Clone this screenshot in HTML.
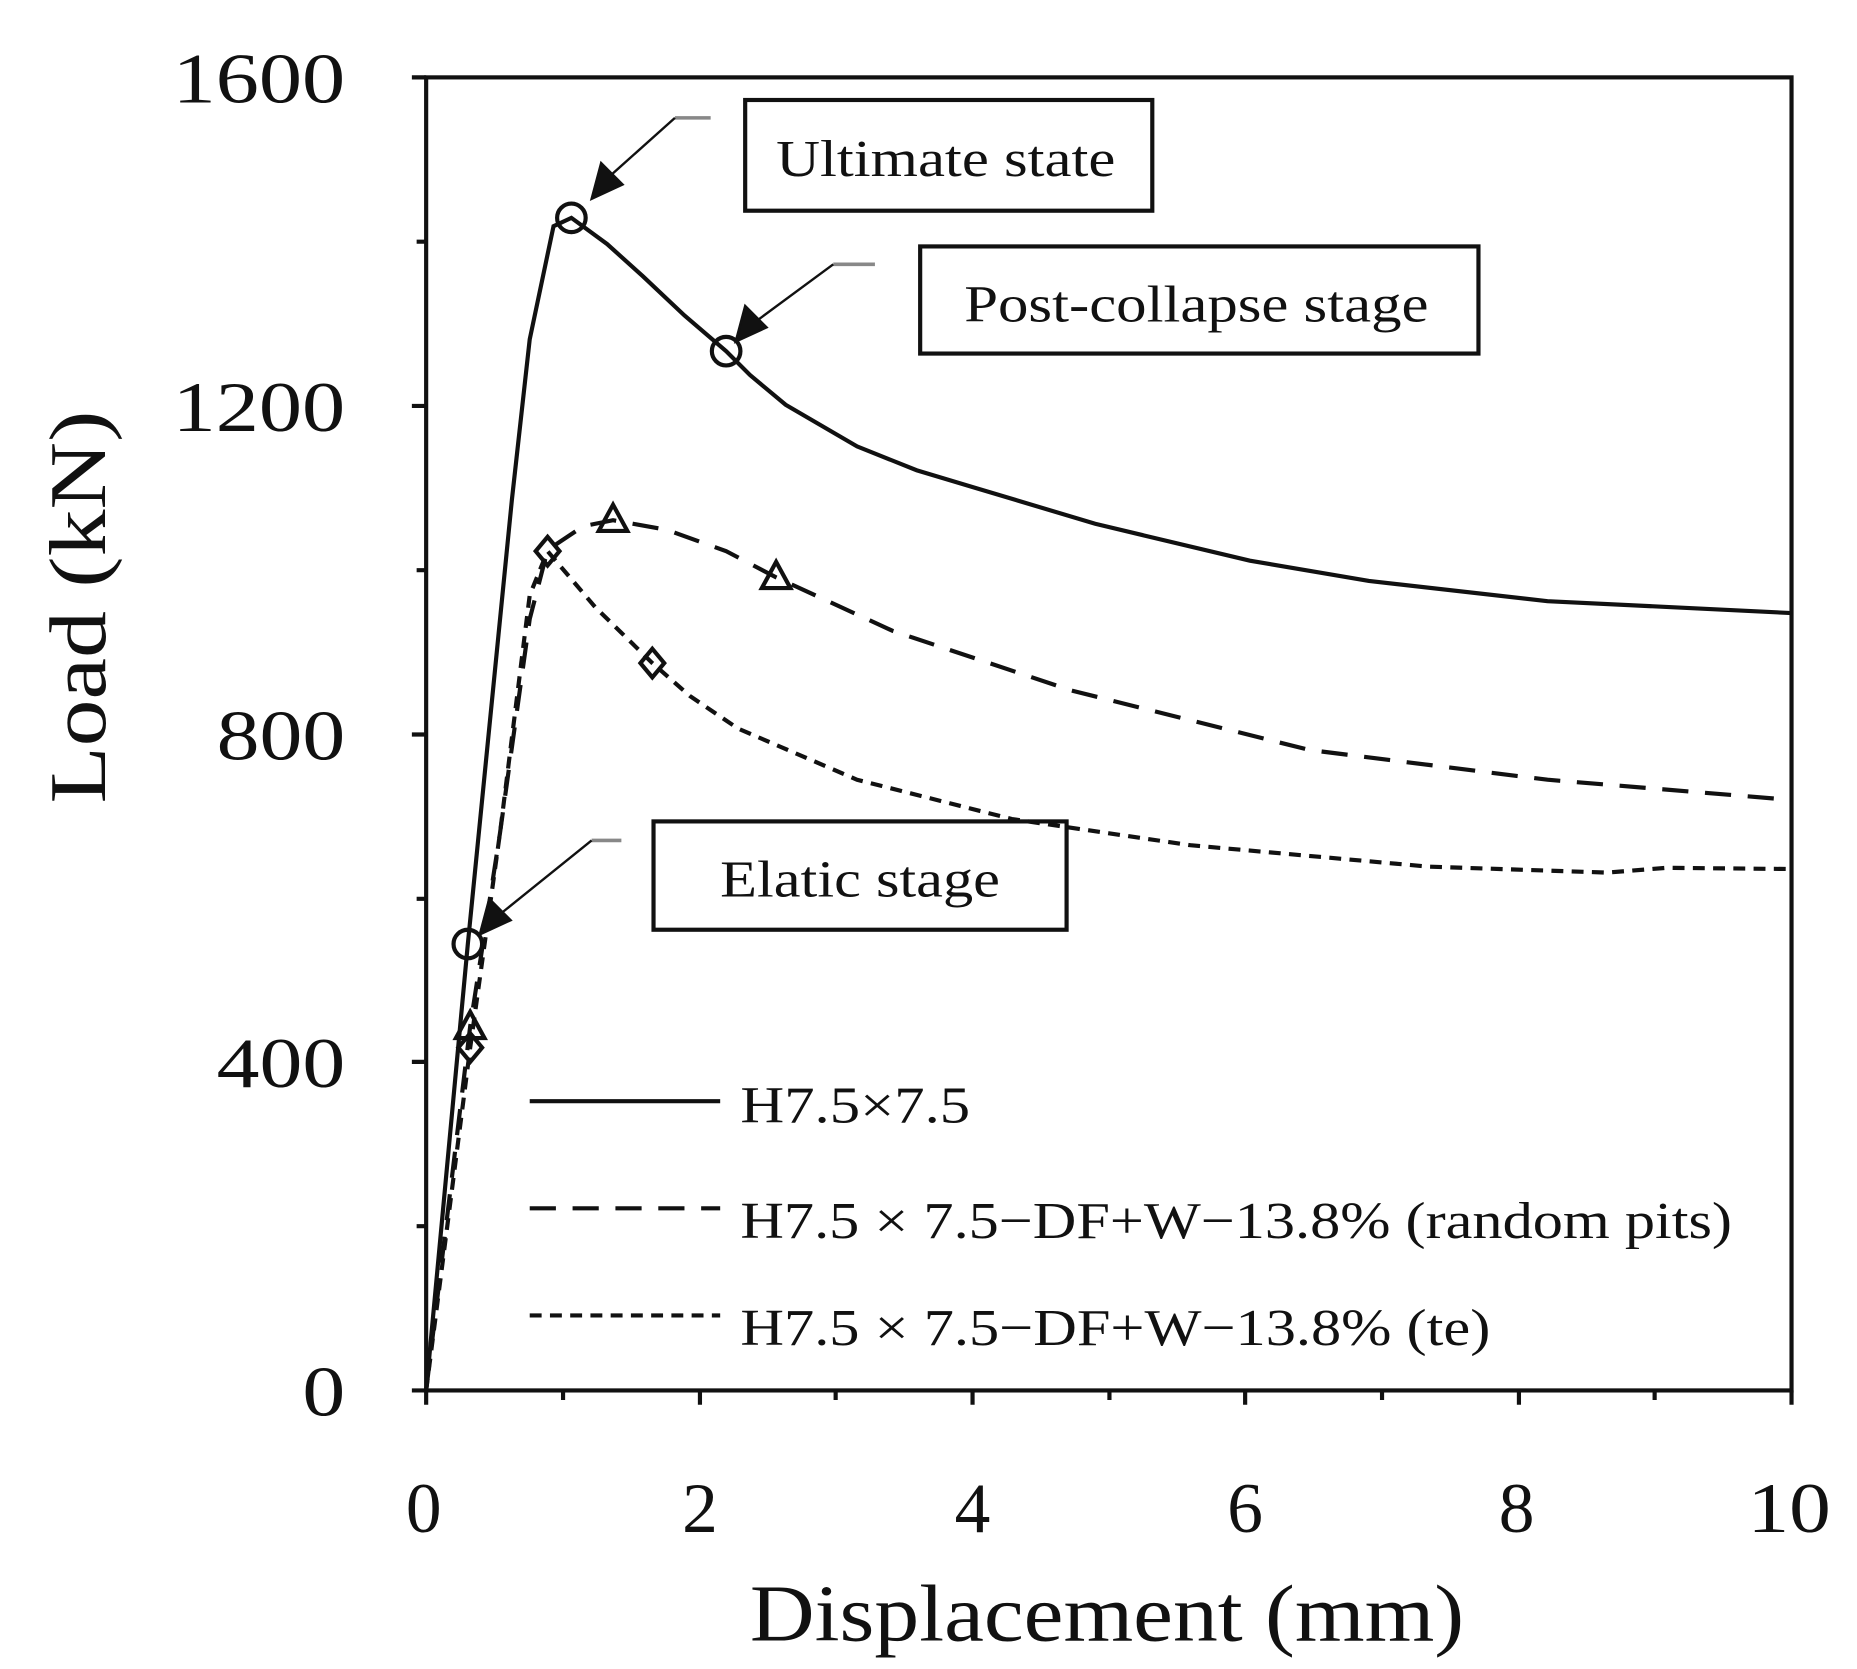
<!DOCTYPE html><html><head><style>body{margin:0;background:#fff}svg{display:block}text{font-family:"Liberation Serif",serif;fill:#111}</style></head><body>
<svg width="1857" height="1669" viewBox="0 0 1560 1402" preserveAspectRatio="none" xmlns="http://www.w3.org/2000/svg">
<g stroke="#111" stroke-width="3.5" fill="none">
<rect x="358" y="65" width="1147" height="1103"/>
<path d="M358 65h-12M358 203h-8M358 341h-12M358 479h-8M358 617h-12M358 755h-8M358 892h-12M358 1030h-8M358 1168h-12"/>
<path d="M358 1168v12M473 1168v8M588 1168v12M702 1168v8M817 1168v12M932 1168v8M1046 1168v12M1161 1168v8M1276 1168v12M1390 1168v8M1505 1168v12"/>
<path d="M358 1168 L393 793 L430 420 L445 285 L465 190 L480 183 L510 205 L540 232 L575 265 L610 295 L630 315 L660 340 L720 375 L770 395 L820 410 L920 440 L1050 471 L1150 488 L1300 505 L1505 515"/>
<path stroke-dasharray="22,14" d="M358 1168 L395 862 L420 700 L445 520 L460 462 L490 442 L515 437 L560 445 L610 463 L652 485 L750 530 L900 580 L1100 630 L1300 655 L1505 672"/>
<path stroke-dasharray="10,7" d="M358 1168 L395 880 L420 700 L445 500 L460 463 L500 510 L548 557 L580 585 L620 612 L720 655 L850 688 L1000 710 L1200 728 L1350 733 L1400 729 L1505 730"/>
<circle cx="480" cy="183" r="12"/><circle cx="610" cy="295" r="12"/><circle cx="393" cy="793" r="12"/>
<path d="M515 424 l12 22 h-24z M652 472 l12 22 h-24z M395 850 l12 22 h-24z"/>
<path d="M460 451 l10 12 -10 12 -10 -12z M548 545 l10 12 -10 12 -10 -12z M395 868 l10 12 -10 12 -10 -12z"/>
<rect x="626" y="84" width="342" height="93"/><rect x="773" y="207" width="469" height="90"/><rect x="549" y="690" width="347" height="91"/>
<path d="M445 925h160"/><path stroke-dasharray="22,14" d="M445 1015h160"/><path stroke-dasharray="10,7" d="M445 1105h160"/>
</g>
<g stroke="#888" stroke-width="3"><path d="M567 99h30M700 222h35M497 706h25"/></g>
<g stroke="#111" stroke-width="2" fill="#111"><path d="M567 99 L510 150" fill="none"/><path d="M497 167 l8 -30 18 18z"/>
<path d="M700 222 L635 270" fill="none"/><path d="M618 287 l8 -30 18 18z"/>
<path d="M497 706 L420 768" fill="none"/><path d="M403 785 l8 -30 18 18z"/></g>
<g font-size="60" text-anchor="end"><text x="290" y="86" textLength="145" lengthAdjust="spacingAndGlyphs">1600</text><text x="290" y="362" textLength="145" lengthAdjust="spacingAndGlyphs">1200</text><text x="290" y="638" textLength="108" lengthAdjust="spacingAndGlyphs">800</text><text x="290" y="913" textLength="108" lengthAdjust="spacingAndGlyphs">400</text><text x="290" y="1189" textLength="36" lengthAdjust="spacingAndGlyphs">0</text></g>
<g font-size="60" text-anchor="middle"><text x="356" y="1287">0</text><text x="588" y="1287">2</text><text x="817" y="1287">4</text><text x="1046" y="1287">6</text><text x="1274" y="1287">8</text><text x="1503" y="1287" textLength="70" lengthAdjust="spacingAndGlyphs">10</text></g>
<text x="630" y="1378" font-size="68" textLength="600" lengthAdjust="spacingAndGlyphs">Displacement (mm)</text>
<text transform="translate(88,675) rotate(-90)" font-size="68" textLength="330" lengthAdjust="spacingAndGlyphs">Load (kN)</text>
<g font-size="44" lengthAdjust="spacingAndGlyphs"><text x="652" y="148" textLength="285" lengthAdjust="spacingAndGlyphs">Ultimate state</text><text x="810" y="270" textLength="390" lengthAdjust="spacingAndGlyphs">Post-collapse stage</text><text x="605" y="753" textLength="235" lengthAdjust="spacingAndGlyphs">Elatic stage</text>
<text x="622" y="943" textLength="193" lengthAdjust="spacingAndGlyphs">H7.5×7.5</text><text x="622" y="1040" textLength="833" lengthAdjust="spacingAndGlyphs">H7.5 × 7.5−DF+W−13.8% (random pits)</text><text x="622" y="1130" textLength="630" lengthAdjust="spacingAndGlyphs">H7.5 × 7.5−DF+W−13.8% (te)</text></g>
</svg></body></html>
